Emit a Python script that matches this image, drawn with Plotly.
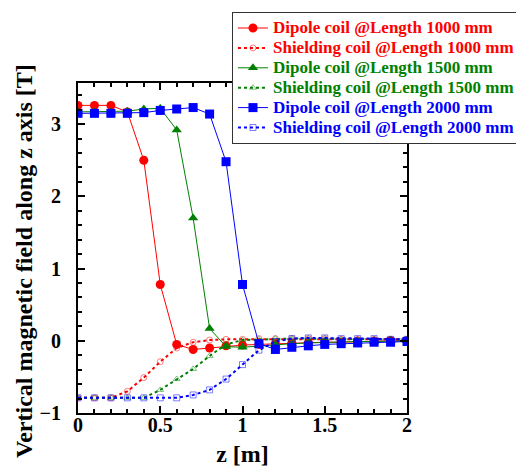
import plotly.graph_objects as go

z = [0.0, 0.1, 0.2, 0.3, 0.4, 0.5, 0.6, 0.7, 0.8, 0.9, 1.0,
     1.1, 1.2, 1.3, 1.4, 1.5, 1.6, 1.7, 1.8, 1.9, 2.0]

dipole_1000 = [3.26, 3.26, 3.26, 3.17, 2.50, 0.78, -0.05, -0.12, -0.10, -0.07, -0.06,
               -0.05, -0.04, -0.03, -0.03, -0.02, -0.02, -0.01, -0.01, 0.0, 0.0]
shield_1000 = [-0.79, -0.79, -0.79, -0.70, -0.51, -0.29, -0.10, -0.02, 0.01, 0.02, 0.02,
               0.03, 0.03, 0.03, 0.03, 0.03, 0.02, 0.02, 0.02, 0.02, 0.02]
dipole_1500 = [3.17, 3.17, 3.17, 3.18, 3.21, 3.22, 2.92, 1.70, 0.17, -0.08, -0.09,
               -0.07, -0.05, -0.04, -0.03, -0.02, -0.02, -0.01, -0.01, 0.0, 0.0]
shield_1500 = [-0.79, -0.79, -0.79, -0.79, -0.79, -0.68, -0.53, -0.39, -0.21, -0.05, 0.01,
               0.02, 0.03, 0.03, 0.03, 0.03, 0.02, 0.02, 0.02, 0.02, 0.02]
dipole_2000 = [3.15, 3.15, 3.15, 3.15, 3.16, 3.19, 3.21, 3.23, 3.14, 2.48, 0.78,
               -0.04, -0.12, -0.09, -0.07, -0.05, -0.04, -0.03, -0.02, -0.02, -0.01]
shield_2000 = [-0.79, -0.79, -0.79, -0.79, -0.79, -0.79, -0.79, -0.75, -0.68, -0.53, -0.33,
               -0.13, -0.01, 0.03, 0.04, 0.04, 0.03, 0.03, 0.03, 0.02, 0.02]

x_tick_vals = [0, 0.5, 1, 1.5, 2]
x_tick_text = ["0", "0.5", "1", "1.5", "2"]
y_tick_vals = [-1, 0, 1, 2, 3]

labels = [
    ("Dipole coil @Length 1000 mm", dipole_1000, "#ff0000", "circle", "solid"),
    ("Shielding coil @Length 1000 mm", shield_1000, "#ff0000", "circle-open", "dot"),
    ("Dipole coil @Length 1500 mm", dipole_1500, "#008000", "triangle-up", "solid"),
    ("Shielding coil @Length 1500 mm", shield_1500, "#008000", "triangle-up-open", "dot"),
    ("Dipole coil @Length 2000 mm", dipole_2000, "#0000ff", "square", "solid"),
    ("Shielding coil @Length 2000 mm", shield_2000, "#0000ff", "square-open", "dot"),
]

fig = go.Figure()
for name, ys, col, sym, dash in labels:
    legend_name = f"<span style='color:{col};font-size:17px'><b>{name}</b></span>"
    if dash == "solid":
        fig.add_trace(go.Scatter(
            x=z, y=ys, mode="lines+markers", name=legend_name,
            line=dict(color=col, width=1),
            marker=dict(color=col, symbol=sym, size=9),
        ))
    else:
        fig.add_trace(go.Scatter(
            x=z, y=ys, mode="lines+markers", name=legend_name,
            line=dict(color=col, width=2, dash="dot"),
            marker=dict(color=col, symbol=sym, size=6, opacity=0.5, line=dict(width=1)),
        ))

font_fam = "Liberation Serif, Times New Roman, serif"
axis_common = dict(
    showline=True, linecolor="black", linewidth=2, mirror="ticks",
    ticks="inside", ticklen=7, tickwidth=2, tickcolor="black",
    showgrid=False, zeroline=False,
    tickfont=dict(family=font_fam, size=20, color="black", weight="bold"),
)

fig.update_xaxes(
    range=[0, 2], tickvals=x_tick_vals, ticktext=x_tick_text,
    minor=dict(dtick=0.1, ticks="inside", ticklen=4, tickwidth=2, tickcolor="black"),
    title=dict(text="<b>z [m]</b>", font=dict(family=font_fam, size=24, color="black"), standoff=10),
    ticklabelstandoff=-7,
    **axis_common,
)
fig.update_yaxes(
    range=[-1, 3.57], tickvals=y_tick_vals,
    minor=dict(dtick=0.2, ticks="inside", ticklen=4, tickwidth=2, tickcolor="black"),
    ticklabelstandoff=11,
    **axis_common,
)

fig.add_annotation(
    text="<b>Vertical magnetic field along z axis [T]</b>",
    xref="paper", yref="paper", x=-0.165, y=0.46,
    xanchor="center", yanchor="middle", textangle=-90, showarrow=False,
    font=dict(family=font_fam, size=24, color="black"),
)

fig.update_layout(
    width=516, height=473,
    margin=dict(l=78, r=109, t=83, b=60, autoexpand=False),
    paper_bgcolor="white", plot_bgcolor="white",
    showlegend=True,
    legend=dict(
        x=0.468, y=1.215, xanchor="left", yanchor="top",
        bgcolor="white", bordercolor="#333333", borderwidth=1,
        font=dict(family=font_fam, size=13, color="black"),
        tracegroupgap=0, itemwidth=30,
    ),
)

fig.write_html("out.html")
